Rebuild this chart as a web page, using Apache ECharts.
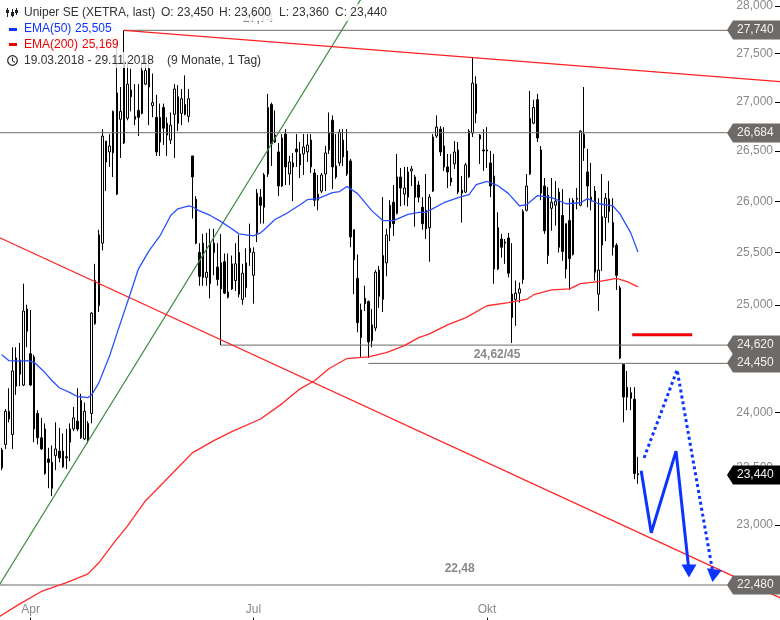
<!DOCTYPE html>
<html><head><meta charset="utf-8">
<script src="https://cdn.jsdelivr.net/npm/echarts@6/dist/echarts.min.js"></script>
<style>html,body{margin:0;padding:0;background:#fff}#c{width:780px;height:620px}</style>
</head><body><div id="c"></div>
<script>
const opens=[23500,23710,23940,23800,24500,24480,24250,24960,24540,24510,23990,23770,23850,23580,23550,23610,23650,23650,23600,23730,23850,23920,23770,23760,23750,23990,24820,24990,25590,26600,26490,26480,26070,26820,26580,26830,27120,26820,26910,26880,27180,27340,26960,26840,26590,26940,26780,26610,26870,27050,26880,26970,26850,26450,26020,25500,25590,25260,25200,25590,25360,25150,25410,25070,25150,25230,25500,25050,25160,25500,25280,25690,26040,25940,26270,26970,26590,26490,26150,26670,26270,26340,26520,26470,26470,26490,26610,26280,26010,26100,26270,26510,26810,26350,26380,26610,26270,26400,25720,25250,24690,25060,25030,24660,24780,25330,25050,25400,25740,25990,25880,26240,26070,26040,26300,26240,26160,25940,25910,25740,26100,26650,26720,26550,26340,26190,26370,26510,26080,26090,26240,26680,27180,26620,26510,26510,26380,26250,25340,25630,25600,25640,25100,25050,25110,25240,25910,26270,26780,27020,26510,26150,25470,25930,25960,26090,25860,25340,25810,25480,26030,25960,26670,26290,26000,26100,25100,25570,25840,26020,25790,25570,25160,24440,24140,24180,24120,23450];
const closes=[23660,24010,24010,24380,24240,24350,24940,24750,24250,23850,23770,23670,23450,23550,23320,23670,23590,23510,23590,23850,23950,23850,24110,24010,23900,24920,25230,25670,26650,26390,26550,26900,27090,26900,27420,27180,27050,26850,26840,27320,27320,27150,26990,26490,26840,26730,26660,26760,27130,26780,27030,26870,27030,26240,25590,25270,25260,25310,25590,25500,25240,25400,25110,25120,25390,25390,25100,25300,25400,25540,25500,26080,25960,26260,26940,26570,26660,26150,26630,26340,26390,26380,26490,26360,26540,26560,26340,26010,26070,26260,26480,26680,26340,26240,26690,26440,26500,25650,25430,24830,24950,25010,24650,24810,25310,25080,25470,25670,25960,25780,26240,26130,26130,26290,26320,26040,26040,25780,25730,26040,26640,26740,26490,26340,26290,26230,26490,26090,26110,26360,26700,27190,26880,26660,26500,26500,26150,25340,25740,25550,25590,25300,24880,25110,25150,25900,26150,26830,26940,26630,26080,25710,26060,25990,26000,25550,25510,25780,25440,26010,26020,26700,26530,26150,26040,25310,25330,25850,26030,25900,25550,25280,24500,24140,24230,24130,23450,23440];
const lows=[23480,23670,23910,23670,24160,24240,24240,24600,24240,23730,23710,23660,23440,23320,23250,23480,23550,23500,23490,23560,23830,23830,23760,23750,23720,23900,24810,24930,25520,26100,26340,26240,26060,26430,26570,26810,26900,26760,26650,26870,27170,26760,26840,26450,26450,26560,26450,26570,26430,26700,26760,26860,26790,25830,25580,25180,25180,25180,25060,25280,25180,24620,25100,25060,25140,25130,25070,25000,25070,25370,25010,25600,25780,25780,26240,26350,26580,26050,26140,26160,26160,26000,26340,26230,26260,26390,26280,25950,25910,26080,26100,26470,26120,26220,26350,26350,26250,25550,25100,24740,24510,24940,24500,24600,24750,24970,24930,25270,25610,25660,25870,25950,25960,25950,26150,25750,25990,25720,25630,25410,26090,26630,26450,26300,26130,26150,26320,26070,25790,26080,26230,26640,26780,26370,26300,26330,26040,25200,25330,25450,25390,25260,24640,24800,25020,25200,25900,26260,26770,26590,26010,25680,25390,25710,25760,25500,25420,25250,25140,25470,25920,25950,26400,25940,25910,25230,24940,25320,25610,25790,25470,25140,24490,23910,24020,24020,23400,23360];
const highs=[23680,24030,24220,24600,24600,24640,25200,25000,24950,24530,24020,23950,23900,23680,23700,23910,23860,23810,23850,23900,24050,24220,24170,24090,23920,24930,25390,25720,26720,26600,26670,26910,27630,27150,27740,27420,27340,27180,27180,27420,27490,27500,27290,27070,26980,26980,26840,26890,27180,27170,27130,27270,27130,26450,26050,25590,25680,25690,25730,25730,25590,25680,25490,25490,25470,25590,25670,25390,25540,25780,25550,26120,26120,26280,27080,26990,26910,26580,26670,26720,26450,26480,26670,26590,26670,26670,26670,26320,26260,26280,26550,26890,26860,26670,26720,26720,26720,26420,25720,25480,25010,25180,25040,24960,25330,25370,26040,25730,26010,26160,26470,26330,26340,26340,26350,26260,26200,26040,26270,26070,26670,26860,26750,26740,26470,26470,26600,26590,26250,26380,26720,27460,27260,26670,26720,26740,26500,26470,25890,25680,25630,25690,25590,25230,25210,25920,26270,27110,27020,27080,26550,26230,26140,26230,26200,26130,26120,25780,26030,26030,26130,26710,27150,26520,26380,26150,26030,26270,26080,26200,26030,25590,25180,24440,24380,24230,24230,23600];
const ema50=[[0,24530],[2,24475],[5,24470],[7,24475],[9,24460],[12,24365],[14,24290],[16,24225],[19,24180],[21,24145],[24,24135],[25,24160],[27,24270],[30,24520],[32,24725],[36,25130],[38,25340],[41,25517],[44,25660],[47,25860],[49,25925],[52,25955],[53,25945],[55,25905],[58,25860],[61,25800],[64,25730],[66,25680],[70,25660],[72,25690],[73,25720],[76,25820],[79,25875],[83,25965],[85,26015],[88,26025],[92,26085],[94,26095],[96,26145],[99,26075],[103,25905],[106,25810],[109,25810],[113,25870],[116,25890],[118,25890],[123,25985],[127,26035],[130,26065],[132,26165],[135,26195],[138,26155],[141,26075],[144,25955],[146,25965],[149,26055],[153,26035],[157,25975],[161,25985],[163,26025],[166,25975],[170,25955],[172,25875],[175,25690],[177,25505]];
const ema200=[[-1,22205],[5,22320],[11,22425],[18,22500],[24,22575],[27,22670],[31,22835],[35,22990],[40,23210],[45,23370],[50,23535],[53,23635],[59,23745],[64,23825],[72,23940],[78,24080],[83,24215],[87,24290],[91,24400],[96,24495],[102,24510],[107,24550],[112,24615],[116,24690],[119,24725],[124,24810],[129,24875],[135,24990],[141,25020],[146,25050],[148,25095],[153,25140],[158,25150],[161,25200],[166,25220],[171,25250],[174,25220],[177,25169]];
const levelStart=[34,-1,61,102,-1];
const levelValue=[27740,26684,24620,24450,22480];
const levelText=['27,740','26,684','24,620','24,450','22,480'];
const lastPrice=[23440], lastPriceText=['23,440'];
const redTop=[[34,27740],[217,27205]];
const redBottom=[[-1,25650],[217,22365]];
const greenTrend=[[-1,22465],[100,28074]];
const redDash=[[175.4,24717],[192.1,24717]];
const arrowSolid=[[177.9,23475],[180.7,22930],[187.6,23650],[191.2,22600]];
const arrowDotted=[[178.7,23590],[187.9,24390],[198,22560]];
const tickValues=[28000,27500,27000,26500,26000,25500,25000,24500,24000,23500,23000,22500];
const monthTicks=[8,70,135], monthNames=['Apr','Jul','Okt'];
const notes=[[137.8,24530,'24,62/45'],[127.4,22620,'22,48'],[71.3,27860,'27,74']];
const FONT='"Liberation Sans", Arial, sans-serif';

const N=218;
const categories=[]; for(let k=-1;k<N;k++) categories.push(String(k));
const candles=[[ '-','-','-','-' ]];
for(let i=0;i<opens.length;i++) candles.push([opens[i],closes[i],lows[i],highs[i]]);
const fmt=v=>Math.round(v).toLocaleString('en-US');
const lineSeries=(data,color,width,extra)=>Object.assign({type:'line',xAxisIndex:1,yAxisIndex:0,data,symbol:'none',silent:true,animation:false,lineStyle:{color,width},z:5},extra||{});
const levels=levelValue.map((v,i)=>lineSeries([[levelStart[i],v],[202,v]],'#6e6a67',1,{z:4}));
const tip=(p,s,r)=>({value:p,symbol:'triangle',symbolSize:s,symbolRotate:r,itemStyle:{color:'#0b34ff'}});
function flag(p,api,color,text){
  const y=Math.round(api.coord([0,p])[1]);
  return {type:'group',children:[
    {type:'polygon',shape:{points:[[727,y],[733,y-9.5],[780,y-9.5],[780,y+9.5],[733,y+9.5]]},style:{fill:color}},
    {type:'text',style:{x:737,y:y,text,fill:'#f2f2f2',font:'12px '+FONT,textVerticalAlign:'middle',textBaseline:'middle'}}
  ]};
}
const chart=echarts.init(document.getElementById('c'),null,{renderer:'canvas'});
chart.setOption({
 animation:false,backgroundColor:'#fff',
 grid:{left:-3.6,top:0.7,width:787.1,height:620,containLabel:false,outerBoundsMode:'none'},
 xAxis:[
  {type:'category',data:categories,boundaryGap:true,axisLine:{show:false},
   axisTick:{show:true,inside:true,length:3,alignWithLabel:true,interval:i=>monthTicks.includes(i-1),lineStyle:{color:'#000'}},
   axisLabel:{inside:true,margin:5,color:'#888',fontFamily:FONT,fontSize:12,interval:i=>monthTicks.includes(i-1),
     formatter:(v,i)=>monthNames[monthTicks.indexOf(i-1)]||''},splitLine:{show:false}},
  {type:'value',min:-1.5,max:217.5,show:false,splitLine:{show:false}}
 ],
 yAxis:[{type:'log',logBase:10,min:22178,max:28053,position:'right',offset:-3.5,axisLine:{show:false},
   axisTick:{show:false},
   axisLabel:{inside:true,margin:7,color:'#888',fontFamily:FONT,fontSize:12,customValues:tickValues,formatter:v=>fmt(v)},
   splitLine:{show:false},minorTick:{show:false},minorSplitLine:{show:false}}],
 series:[
  {type:'candlestick',xAxisIndex:0,yAxisIndex:0,data:candles,barWidth:2,silent:true,animation:false,z:2,
   itemStyle:{color:'#ffffff',color0:'#000000',borderColor:'#000000',borderColor0:'#000000',borderWidth:1}},
  ...levels,
  lineSeries(greenTrend,'#3f8a3f',1.2),
  lineSeries(redTop,'#ff2020',1.2),
  lineSeries(redBottom,'#ff2020',1.2),
  lineSeries(ema200,'#ff2a2a',1.3),
  lineSeries(ema50,'#2a50ff',1.3),
  lineSeries(redDash,'#f00000',3),
  lineSeries(arrowSolid.map((p,i)=>i===3?tip(p,[15,13],180):p),'#0b34ff',3,{showSymbol:true,showAllSymbol:true,z:6}),
  lineSeries(arrowDotted.map((p,i)=>i===2?tip(p,[15,13],172):p),'#0b34ff',3,{showSymbol:true,showAllSymbol:true,z:6,lineStyle:{color:'#0b34ff',width:3,type:[3,3]}}),
  {type:'custom',xAxisIndex:1,yAxisIndex:0,data:tickValues.map(v=>[0,v]),z:3,silent:true,clip:false,
   renderItem:(p,api)=>{const y=Math.round(api.coord([0,api.value(1)])[1])+.5;
     return {type:'line',shape:{x1:775,y1:y,x2:780,y2:y},style:{stroke:'#000',lineWidth:1}};}},
  {type:'custom',xAxisIndex:1,yAxisIndex:0,data:notes.map(n=>[n[0],n[1]]),z:8,silent:true,clip:false,
   renderItem:(p,api)=>{const c=api.coord([api.value(0),api.value(1)]);
     return {type:'text',style:{x:c[0],y:c[1],text:notes[p.dataIndex][2],fill:'#888',font:'bold 12px '+FONT,textAlign:'center',textVerticalAlign:'middle',textBaseline:'middle'}};}},
  {type:'custom',xAxisIndex:1,yAxisIndex:0,data:levelValue.map(v=>[0,v]),z:9,silent:true,clip:false,
   renderItem:(p,api)=>flag(api.value(1),api,'#6e6a67',levelText[p.dataIndex])},
  {type:'custom',xAxisIndex:1,yAxisIndex:0,data:lastPrice.map(v=>[0,v]),z:10,silent:true,clip:false,
   renderItem:(p,api)=>flag(api.value(1),api,'#000000',lastPriceText[p.dataIndex])}
 ],
 graphic:[
  {type:'rect',z:50,silent:true,shape:{x:0,y:4,width:390,height:17},style:{fill:'rgba(255,255,255,0.8)'}},
  {type:'rect',z:50,silent:true,shape:{x:0,y:21,width:122,height:16},style:{fill:'rgba(255,255,255,0.8)'}},
  {type:'rect',z:50,silent:true,shape:{x:0,y:37,width:122,height:15},style:{fill:'rgba(255,255,255,0.8)'}},
  {type:'rect',z:50,silent:true,shape:{x:0,y:52,width:262,height:16},style:{fill:'rgba(255,255,255,0.8)'}},
  ...[[7,8,17,10,13],[12,9,17,12,16],[16,8,15,10,13]].map(a=>({type:'group',z:51,silent:true,children:[
     {type:'line',z:51,shape:{x1:a[0]+.5,y1:a[1],x2:a[0]+.5,y2:a[2]},style:{stroke:'#222',lineWidth:1}},
     {type:'rect',z:51,shape:{x:a[0]-1,y:a[3],width:3,height:a[4]-a[3]},style:{fill:'#222'}}]})),
  {type:'rect',z:51,silent:true,shape:{x:9,y:28,width:8,height:3},style:{fill:'#0b34ff'}},
  {type:'rect',z:51,silent:true,shape:{x:9,y:43,width:8,height:3},style:{fill:'#f00000'}},
  {type:'circle',z:51,silent:true,shape:{cx:12.5,cy:60.5,r:4.8},style:{fill:'none',stroke:'#222',lineWidth:1.2}},
  {type:'polyline',z:51,silent:true,shape:{points:[[12.5,57.5],[12.5,61],[15,62.5]]},style:{fill:'none',stroke:'#222',lineWidth:1}},
  ...[[24,12.7,'Uniper SE (XETRA, last)','#333'],[161,12.7,'O: 23,450','#333'],[219,12.7,'H: 23,600','#333'],[279,12.7,'L: 23,360','#333'],[335,12.7,'C: 23,440','#333'],
      [24,29,'EMA(50)','#0b34ff'],[75,29,'25,505','#0b34ff'],
      [24,44.5,'EMA(200)','#f00000'],[82,44.5,'25,169','#f00000'],
      [24,60.5,'19.03.2018 - 29.11.2018','#333'],[167,60.5,'(9 Monate, 1 Tag)','#333']].map(t=>(
     {type:'text',z:52,silent:true,style:{x:t[0],y:t[1],text:t[2],fill:t[3],font:'12px '+FONT,textVerticalAlign:'middle',textBaseline:'middle'}}))
 ]
});
</script></body></html>
